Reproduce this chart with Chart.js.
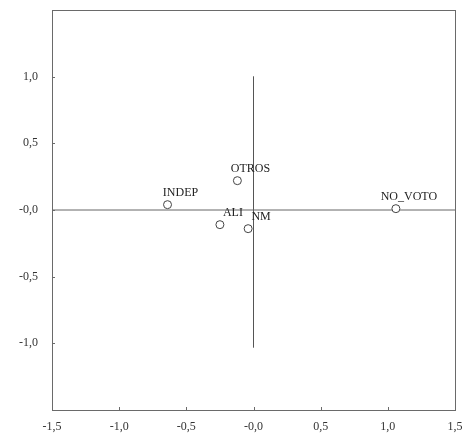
<!DOCTYPE html>
<html>
<head>
<meta charset="utf-8">
<script src="https://cdn.jsdelivr.net/npm/chart.js@4/dist/chart.umd.min.js"></script>
<style>
  html, body { margin: 0; padding: 0; background: #fff; }
  #wrap { width: 471px; height: 445px; }
</style>
</head>
<body>
<div id="wrap"><canvas id="c" width="471" height="445"></canvas></div>
<script>
// ---- data ----
const categories = ['INDEP', 'OTROS', 'ALI', 'NM', 'NO_VOTO'];
const dim1 = [-0.64, -0.12, -0.25, -0.04, 1.06];
const dim2 = [0.04, 0.22, -0.11, -0.14, 0.01];
const xTickValues = [-1.5, -1.0, -0.5, 0, 0.5, 1.0, 1.5];
const xTickLabels = ['-1,5', '-1,0', '-0,5', '-0,0', '0,5', '1,0', '1,5'];
const yTickValues = [-1.0, -0.5, 0, 0.5, 1.0];
const yTickLabels = ['-1,0', '-0,5', '-0,0', '0,5', '1,0'];
const refHorizontal = [{x: -1.5, y: 0}, {x: 1.5, y: 0}];
const refVertical = [{x: 0, y: 1.0}, {x: 0, y: -1.03}];

const points = categories.map((c, i) => ({x: dim1[i], y: dim2[i], label: c}));
const FONT = '"Liberation Serif", "Times New Roman", serif';

const framePlugin = {
  id: 'frame',
  afterDatasetsDraw(chart) {
    const {ctx, chartArea: a, scales} = chart;
    ctx.save();
    ctx.strokeStyle = '#6a6a6a';
    ctx.lineWidth = 1;
    ctx.strokeRect(Math.round(a.left) + 0.5, Math.round(a.top) + 0.5,
                   Math.round(a.right - a.left), Math.round(a.bottom - a.top));
    // inward tick marks
    ctx.beginPath();
    xTickValues.forEach(v => {
      const px = Math.round(scales.x.getPixelForValue(v)) + 0.5;
      ctx.moveTo(px, a.bottom);
      ctx.lineTo(px, a.bottom - 3);
    });
    yTickValues.forEach(v => {
      const py = Math.round(scales.y.getPixelForValue(v)) + 0.5;
      ctx.moveTo(a.left, py);
      ctx.lineTo(a.left + 3, py);
    });
    ctx.stroke();
    // point labels
    ctx.fillStyle = '#222';
    ctx.font = '12px ' + FONT;
    ctx.textAlign = 'center';
    ctx.textBaseline = 'middle';
    points.forEach(p => {
      const px = scales.x.getPixelForValue(p.x);
      const py = scales.y.getPixelForValue(p.y);
      ctx.fillText(p.label, px + 13, py - 12);
    });
    ctx.restore();
  }
};

new Chart(document.getElementById('c'), {
  type: 'scatter',
  data: {
    datasets: [
      {
        type: 'line', data: refHorizontal, borderColor: '#666', borderWidth: 1,
        pointRadius: 0, fill: false, order: 2
      },
      {
        type: 'line', data: refVertical, borderColor: '#555', borderWidth: 1,
        pointRadius: 0, fill: false, order: 2
      },
      {
        data: points, pointRadius: 4, pointHoverRadius: 4,
        pointBackgroundColor: '#fff', pointBorderColor: '#444', pointBorderWidth: 1,
        order: 1
      }
    ]
  },
  options: {
    responsive: false,
    animation: false,
    devicePixelRatio: 1,
    layout: { padding: { top: 10, right: 16, left: 0, bottom: 0 } },
    plugins: { legend: { display: false }, tooltip: { enabled: false } },
    scales: {
      x: {
        type: 'linear', min: -1.5, max: 1.5,
        afterBuildTicks: s => { s.ticks = xTickValues.map(v => ({value: v})); },
        afterFit: s => { s.height = 35; s.paddingLeft = 0; s.paddingRight = 0; },
        grid: { display: false, drawTicks: false },
        border: { display: false },
        ticks: {
          padding: 10, color: '#333', font: { family: FONT, size: 12 },
          maxRotation: 0, autoSkip: false,
          callback: v => xTickLabels[xTickValues.indexOf(v)]
        }
      },
      y: {
        type: 'linear', min: -1.5, max: 1.5,
        afterBuildTicks: s => { s.ticks = yTickValues.map(v => ({value: v})); },
        afterFit: s => { s.width = 52; s.paddingTop = 0; s.paddingBottom = 0; },
        grid: { display: false, drawTicks: false },
        border: { display: false },
        ticks: {
          padding: 14, color: '#333', font: { family: FONT, size: 12 },
          autoSkip: false,
          callback: v => yTickLabels[yTickValues.indexOf(v)]
        }
      }
    }
  },
  plugins: [framePlugin]
});
</script>
</body>
</html>
